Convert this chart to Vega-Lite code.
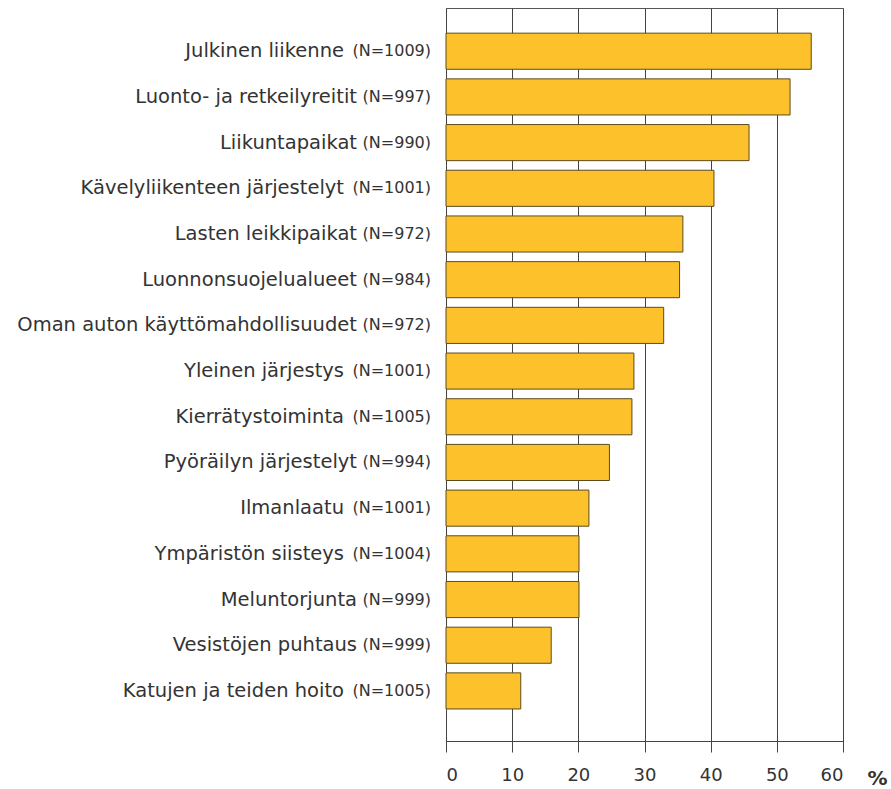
{
  "$schema": "https://vega.github.io/schema/vega-lite/v6.json",
  "autosize": "none",
  "width": 397,
  "height": 733,
  "padding": {"left": 446, "top": 8, "right": 48, "bottom": 48},
  "background": "white",
  "config": {
    "view": {"stroke": "#555555", "strokeWidth": 1},
    "font": "DejaVu Sans"
  },
  "data": {
    "values": [
      {"name": "Julkinen liikenne", "n": "(N=1009)", "big": true, "value": 55.2},
      {"name": "Luonto- ja retkeilyreitit", "n": "(N=997)", "big": false, "value": 52.0},
      {"name": "Liikuntapaikat", "n": "(N=990)", "big": false, "value": 45.8},
      {"name": "Kävelyliikenteen järjestelyt", "n": "(N=1001)", "big": true, "value": 40.5},
      {"name": "Lasten leikkipaikat", "n": "(N=972)", "big": false, "value": 35.8},
      {"name": "Luonnonsuojelualueet", "n": "(N=984)", "big": false, "value": 35.3},
      {"name": "Oman auton käyttömahdollisuudet", "n": "(N=972)", "big": false, "value": 32.9},
      {"name": "Yleinen järjestys", "n": "(N=1001)", "big": true, "value": 28.4},
      {"name": "Kierrätystoiminta", "n": "(N=1005)", "big": true, "value": 28.1},
      {"name": "Pyöräilyn järjestelyt", "n": "(N=994)", "big": false, "value": 24.7},
      {"name": "Ilmanlaatu", "n": "(N=1001)", "big": true, "value": 21.6},
      {"name": "Ympäristön siisteys", "n": "(N=1004)", "big": true, "value": 20.1},
      {"name": "Meluntorjunta", "n": "(N=999)", "big": false, "value": 20.1},
      {"name": "Vesistöjen puhtaus", "n": "(N=999)", "big": false, "value": 15.9},
      {"name": "Katujen ja teiden hoito", "n": "(N=1005)", "big": true, "value": 11.3}
    ]
  },
  "encoding": {
    "y": {
      "field": "name",
      "type": "nominal",
      "sort": null,
      "axis": null,
      "scale": {"paddingInner": 0.21, "paddingOuter": 0.626, "align": 0.44}
    }
  },
  "layer": [
    {
      "mark": {"type": "bar", "fill": "#FDC22B", "stroke": "#5C4B1F", "strokeWidth": 1},
      "encoding": {
        "x": {
          "field": "value",
          "type": "quantitative",
          "scale": {"domain": [0, 60], "nice": false},
          "axis": {
            "values": [0, 10, 20, 30, 40, 50, 60],
            "grid": true,
            "gridColor": "#444444",
            "gridWidth": 1,
            "gridOpacity": 1,
            "domain": true,
            "domainColor": "#444444",
            "tickColor": "#444444",
            "tickSize": 11,
            "labelFontSize": 18,
            "labelColor": "#333333",
            "labelFont": "DejaVu Sans",
            "labelPadding": 14,
            "title": "%",
            "titleFontSize": 20,
            "titleFontWeight": "bold",
            "titleColor": "#333333",
            "titleAngle": 0,
            "titleAlign": "left",
            "titleBaseline": "middle",
            "titleX": 421,
            "titleY": 37
          }
        }
      }
    },
    {
      "mark": {"type": "text", "align": "right", "baseline": "middle", "dx": -15, "fontSize": 16, "color": "#333333", "font": "DejaVu Sans"},
      "encoding": {
        "x": {"datum": 0, "type": "quantitative"},
        "text": {"field": "n"}
      }
    },
    {
      "transform": [{"filter": "datum.big"}],
      "mark": {"type": "text", "align": "right", "baseline": "middle", "dx": -102, "fontSize": 19.5, "color": "#333333", "font": "DejaVu Sans"},
      "encoding": {
        "x": {"datum": 0, "type": "quantitative"},
        "text": {"field": "name"}
      }
    },
    {
      "transform": [{"filter": "!datum.big"}],
      "mark": {"type": "text", "align": "right", "baseline": "middle", "dx": -89, "fontSize": 19.5, "color": "#333333", "font": "DejaVu Sans"},
      "encoding": {
        "x": {"datum": 0, "type": "quantitative"},
        "text": {"field": "name"}
      }
    }
  ]
}
